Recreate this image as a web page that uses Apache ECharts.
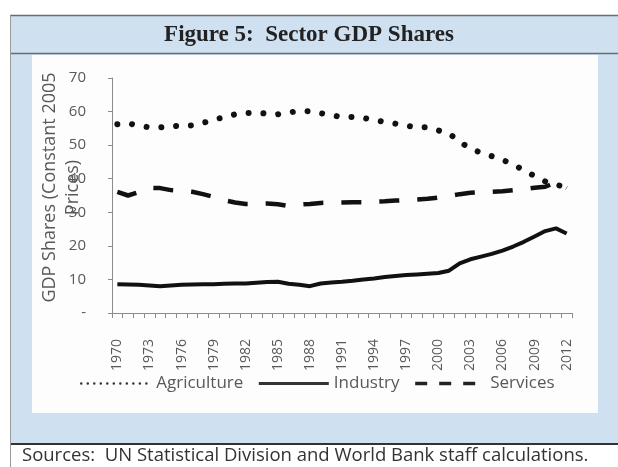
<!DOCTYPE html>
<html>
<head>
<meta charset="utf-8">
<script src="https://cdn.jsdelivr.net/npm/echarts@6/dist/echarts.min.js"></script>
<style>
  html, body { margin: 0; padding: 0; background: #ffffff; }
  #chart { width: 618px; height: 467px; }
</style>
</head>
<body>
<div id="chart"></div>
<script>
// Dados (participação no PIB, %)
const years = ['1970', '1971', '1972', '1973', '1974', '1975', '1976', '1977', '1978', '1979',
  '1980', '1981', '1982', '1983', '1984', '1985', '1986', '1987', '1988', '1989',
  '1990', '1991', '1992', '1993', '1994', '1995', '1996', '1997', '1998', '1999',
  '2000', '2001', '2002', '2003', '2004', '2005', '2006', '2007', '2008', '2009',
  '2010', '2011', '2012'];
const agriculture = [56.2, 56.5, 55.8, 55.3, 55.3, 55.6, 55.8, 55.9, 56.6, 57.6,
  58.3, 59.2, 59.6, 59.6, 59.4, 59.2, 59.7, 60.2, 60.1, 59.5,
  58.9, 58.4, 58.4, 58.1, 57.5, 56.9, 56.4, 55.8, 55.3, 55.3,
  54.4, 53.5, 51.0, 49.0, 47.7, 46.7, 45.6, 44.3, 42.5, 40.8,
  39.2, 38.3, 37.3];
const industry = [8.6, 8.5, 8.4, 8.2, 8.0, 8.2, 8.4, 8.5, 8.6, 8.6,
  8.7, 8.8, 8.8, 9.0, 9.2, 9.3, 8.7, 8.4, 8.0, 8.8,
  9.1, 9.3, 9.6, 10.0, 10.3, 10.7, 11.0, 11.3, 11.5, 11.7,
  11.9, 12.6, 14.8, 16.0, 16.8, 17.6, 18.6, 19.8, 21.2, 22.8,
  24.4, 25.2, 23.7];
const services = [36.1, 35.0, 36.0, 37.3, 37.2, 36.6, 36.4, 36.1, 35.4, 34.6,
  33.6, 32.9, 32.5, 32.5, 32.6, 32.4, 31.9, 32.3, 32.5, 32.8,
  32.9, 32.9, 33.0, 33.0, 33.2, 33.3, 33.5, 33.6, 33.8, 34.0,
  34.4, 34.8, 35.4, 35.8, 36.0, 36.1, 36.3, 36.6, 36.9, 37.3,
  37.6, 38.9, 37.2];
const seriesNames = ['Agriculture', 'Industry', 'Services'];
const titleText = 'Figure 5:  Sector GDP Shares';
const sourceText = 'Sources:  UN Statistical Division and World Bank staff calculations.';

const chart = echarts.init(document.getElementById('chart'));

const frameBlue = '#cfe0f0';
const frameLine = '#6b6b6b';
const axisGrey = '#8c8c8c';
const labelGrey = '#595959';
const hideSymbol = { opacity: 0, borderWidth: 0 };

const option = {
  backgroundColor: '#ffffff',
  animation: false,
  graphic: [
    // moldura azul
    { type: 'rect', z: -10, shape: { x: 10, y: 15, width: 608, height: 429 }, style: { fill: frameBlue } },
    // painel branco
    { type: 'rect', z: -9, shape: { x: 32, y: 55, width: 566, height: 358 }, style: { fill: '#fdfdfd' } },
    { type: 'line', z: -8, shape: { x1: 10, y1: 15.5, x2: 618, y2: 15.5 }, style: { stroke: frameLine, lineWidth: 1.5 } },
    { type: 'line', z: -8, shape: { x1: 10, y1: 53.5, x2: 618, y2: 53.5 }, style: { stroke: frameLine, lineWidth: 1.5 } },
    { type: 'line', z: -8, shape: { x1: 10, y1: 444, x2: 618, y2: 444 }, style: { stroke: '#333333', lineWidth: 2 } },
    { type: 'line', z: -8, shape: { x1: 10.5, y1: 15, x2: 10.5, y2: 467 }, style: { stroke: '#9a9a9a', lineWidth: 1 } },
    {
      type: 'text', left: 22, top: 446,
      style: { text: sourceText, fill: '#333333', font: '18.5px "Open Sans", sans-serif' }
    }
  ],
  title: {
    text: titleText,
    left: 'center',
    top: 19,
    textStyle: { fontFamily: '"Liberation Serif", serif', fontWeight: 'bold', fontSize: 23, color: '#222222' }
  },
  legend: {
    left: 80,
    top: 375,
    padding: 0,
    itemWidth: 70,
    itemHeight: 14,
    itemGap: 14,
    textStyle: { fontFamily: '"Open Sans", sans-serif', fontSize: 17, color: labelGrey },
    data: [
      { name: 'Agriculture', itemStyle: hideSymbol, lineStyle: { type: [0.01, 6.5], width: 2.5, cap: 'round', color: '#333' } },
      { name: 'Industry', itemStyle: hideSymbol, lineStyle: { width: 3, color: '#333' } },
      { name: 'Services', itemStyle: hideSymbol, lineStyle: { type: [12, 12], width: 3.5, color: '#222' } }
    ]
  },
  grid: { left: 112, right: 46, top: 78, bottom: 154 },
  xAxis: {
    type: 'category',
    data: years,
    boundaryGap: true,
    axisLine: { lineStyle: { color: axisGrey } },
    axisTick: { show: true, interval: 0, length: 5, lineStyle: { color: axisGrey } },
    axisLabel: {
      interval: 2,
      rotate: 90,
      margin: 26,
      fontFamily: '"Open Sans", sans-serif',
      fontSize: 14,
      color: labelGrey
    },
    splitLine: { show: false }
  },
  yAxis: {
    type: 'value',
    min: 0,
    max: 70,
    interval: 10,
    name: 'GDP Shares (Constant 2005\nPrices)',
    nameLocation: 'middle',
    nameGap: 28,
    nameMoveOverlap: false,
    nameTextStyle: {
      fontFamily: '"Open Sans", sans-serif', fontSize: 18, color: labelGrey, lineHeight: 23,
      padding: [0, 0, 0, 16]
    },
    axisLine: { show: true, lineStyle: { color: axisGrey } },
    axisTick: { show: true, length: 4, lineStyle: { color: axisGrey } },
    axisLabel: {
      margin: 26,
      fontFamily: '"Open Sans", sans-serif',
      fontSize: 15,
      color: labelGrey,
      formatter: v => (v === 0 ? '-' : v)
    },
    splitLine: { show: false }
  },
  series: [
    {
      name: seriesNames[0],
      type: 'line',
      data: agriculture,
      symbol: 'none',
      color: '#111111',
      lineStyle: { color: '#111111', width: 6, type: [0.01, 14.8], cap: 'round' }
    },
    {
      name: seriesNames[1],
      type: 'line',
      data: industry,
      symbol: 'none',
      color: '#111111',
      lineStyle: { color: '#111111', width: 4 }
    },
    {
      name: seriesNames[2],
      type: 'line',
      data: services,
      symbol: 'none',
      color: '#111111',
      lineStyle: { color: '#111111', width: 4.5, type: [20, 18] }
    }
  ]
};

chart.setOption(option);

window.addEventListener('resize', function () {
  chart.resize();
});
</script>
</body>
</html>
